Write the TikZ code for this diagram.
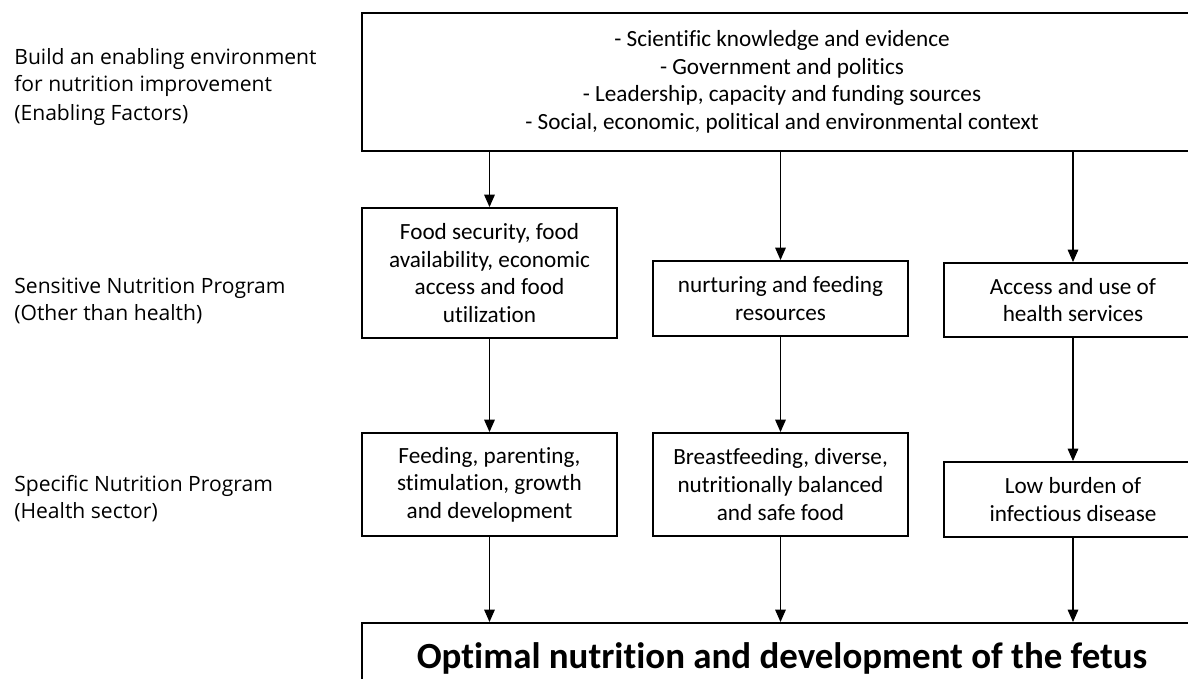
\documentclass[tikz,border=0pt]{standalone}
\usepackage{fontspec}
\setmainfont{Carlito}[Ligatures=NoCommon]
\newfontfamily\labelfont{Open Sans}[Ligatures=NoCommon]
\usetikzlibrary{arrows.meta}

\begin{document}
\begin{tikzpicture}[x=0.02cm, y=-0.02cm,
        box/.style={rectangle, draw, line width=1.1pt, align=center, inner sep=0pt,
            minimum width=5.1cm, font=\fontsize{13.2}{15.7}\selectfont},
        lbl/.style={anchor=north west, align=left, inner sep=0pt,
            font=\labelfont\fontsize{12}{15.3}\selectfont},
        arr/.style={-{Triangle[width=6pt,length=7pt]}, line width=0.6pt}]
        \useasboundingbox (0, 0) rectangle (1188, 679);
        \clip (0, 0) rectangle (1188, 679);

        % row labels
        \node (lenab) at (14, 48) [lbl] {Build an enabling environment\\for nutrition improvement\\[1.5pt](Enabling Factors)};
        \node (lsens) at (14, 278) [lbl] {Sensitive Nutrition Program\\(Other than health)};
        \node (lspec) at (14, 475) [lbl] {Specific Nutrition Program\\(Health sector)};

        % enabling factors
        \node (enab) at (782, 82) [box, minimum width=16.8cm, minimum height=2.76cm] {- Scientific knowledge and evidence\\- Government and politics\\- Leadership, capacity and funding sources\\- Social, economic, political and environmental context};

        % sensitive programs
        \node (food) at (489.5, 273) [box, minimum height=2.6cm] {Food security, food\\availability, economic\\access and food\\utilization};
        \node (nurt) at (780.5, 298.5) [box, minimum height=1.5cm] {nurturing and feeding\\resources};
        \node (serv) at (1073, 300) [box, minimum width=5.16cm, minimum height=1.48cm] {Access and use of\\health services};

        % specific programs
        \node (feed) at (489.5, 484.5) [box, minimum height=2.06cm] {Feeding, parenting,\\stimulation, growth\\and development};
        \node (brst) at (780.5, 484.5) [box, minimum height=2.06cm] {Breastfeeding, diverse,\\nutritionally balanced\\and safe food};
        \node (dise) at (1073, 499.5) [box, minimum width=5.16cm, minimum height=1.5cm] {Low burden of\\infectious disease};

        % outcome
        \node (fetus) at (782, 622) [box, anchor=north, minimum width=16.8cm, text height=26pt, text depth=30pt,
            font=\bfseries\fontsize{21}{25}\selectfont] {Optimal nutrition and development of the fetus};

        \draw[arr] (enab.south -| food.north) -- (food.north);
        \draw[arr] (enab.south -| nurt.north) -- (nurt.north);
        \draw[arr] (enab.south -| serv.north) -- (serv.north);
        \draw[arr] (food.south) -- (feed.north);
        \draw[arr] (nurt.south) -- (brst.north);
        \draw[arr] (serv.south) -- (dise.north);
        \draw[arr] (feed.south) -- (feed.south |- fetus.north);
        \draw[arr] (brst.south) -- (brst.south |- fetus.north);
        \draw[arr] (dise.south) -- (dise.south |- fetus.north);
    \end{tikzpicture}
\end{document}
